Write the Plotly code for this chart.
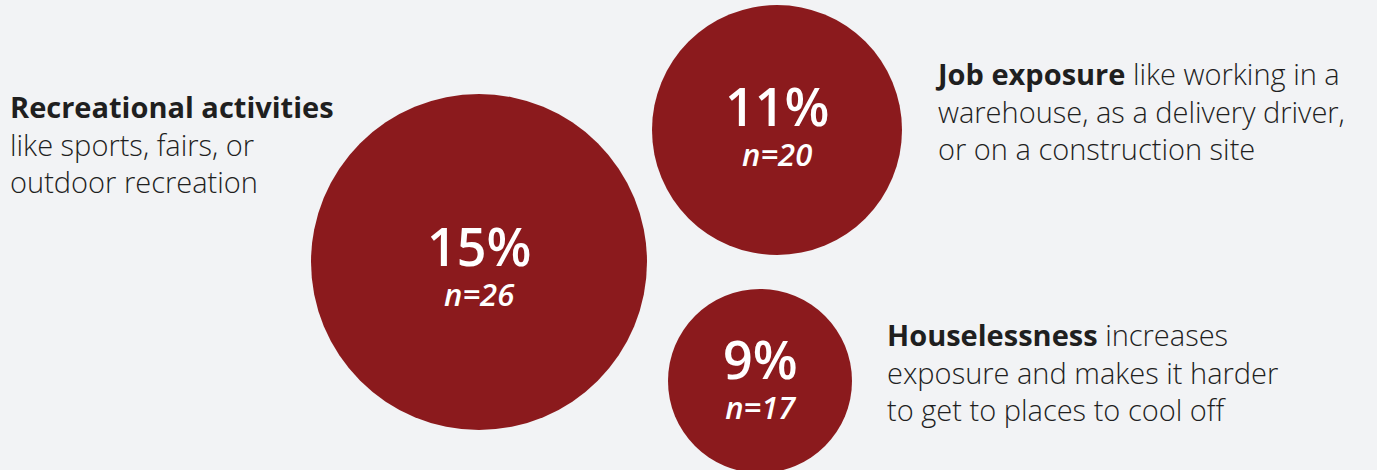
import plotly.graph_objects as go

# ---- data ----
categories = ["Recreational activities", "Job exposure", "Houselessness"]
percent = [15, 11, 9]
n_values = [26, 20, 17]
bold_labels = ["Recreational activities", "Job exposure", "Houselessness"]
descriptions = [
    "like sports, fairs, or<br>outdoor recreation",
    " like working in a<br>warehouse, as a delivery driver,<br>or on a construction site",
    " increases<br>exposure and makes it harder<br>to get to places to cool off",
]

# ---- layout (pixel geometry, not data) ----
W, H = 1377, 470
cx = [479, 777, 760]
cy = [262, 130, 381]
radius = [168, 125, 92]
text_y = [262, 122, 375]
label_x = [8, 933, 885]
label_y = [85, 52, 313]
label_sep = ["<br>", "", ""]

BG = "#f2f3f5"
RED = "#8b1a1d"
FONT = "Open Sans"

fig = go.Figure()
fig.add_trace(go.Scatter(
    x=cx, y=cy, mode="markers",
    marker=dict(size=[2 * r for r in radius], color=RED, line=dict(width=0), opacity=1),
    hoverinfo="skip", showlegend=False,
))

annotations = []
for i in range(len(categories)):
    annotations.append(dict(
        x=cx[i], y=text_y[i], xref="x", yref="y",
        text=f"<span style='font-size:52px'>{percent[i]}%</span><br><i>n={n_values[i]}</i>",
        showarrow=False, xanchor="center", yanchor="middle", align="center",
        font=dict(family=FONT, size=31, color="white", weight=600),
    ))
    annotations.append(dict(
        x=label_x[i], y=label_y[i], xref="x", yref="y",
        text=f"<b>{bold_labels[i]}</b>{label_sep[i]}{descriptions[i]}",
        showarrow=False, xanchor="left", yanchor="top", align="left",
        font=dict(family=FONT, size=29, color="#1f1f1f", weight=300),
    ))

fig.update_layout(
    width=W, height=H,
    margin=dict(l=0, r=0, t=0, b=0),
    paper_bgcolor=BG, plot_bgcolor=BG,
    xaxis=dict(range=[0, W], visible=False, fixedrange=True),
    yaxis=dict(range=[H, 0], visible=False, fixedrange=True),
    annotations=annotations,
    showlegend=False,
)

fig.write_html(
    "out.html",
    config={"displayModeBar": False},
    post_script="document.body.style.margin='0';document.body.style.background='" + BG + "';",
)
